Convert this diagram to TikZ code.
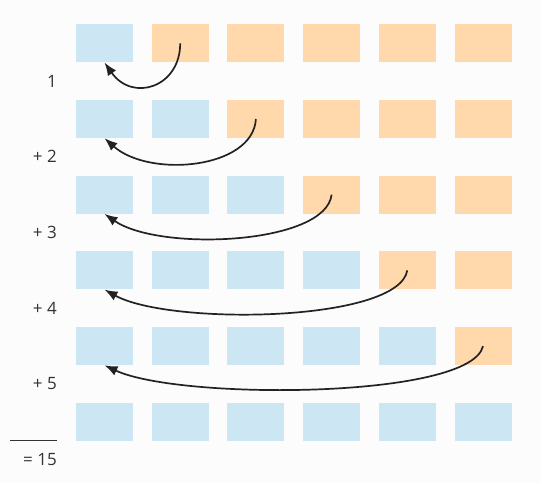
\documentclass[tikz,border=0pt]{standalone}
\usepackage{fontspec}
\setmainfont{Open Sans}
\usetikzlibrary{arrows.meta,positioning,calc}
\definecolor{Ink}{HTML}{222222}
\definecolor{Label}{HTML}{333333}
\definecolor{Sky}{HTML}{CCE6F4}
\definecolor{Peach}{HTML}{FFD8AC}
\definecolor{Paper}{HTML}{FCFCFC}

\begin{document}
\begin{tikzpicture}[x=1pt,y=1pt,>={Latex[length=13pt,width=10pt]},
    cell/.style={minimum width=57pt,minimum height=38pt,inner sep=0pt},
    done/.style={cell,fill=Sky},
    todo/.style={cell,fill=Peach},
    sumlabel/.style={anchor=east,font=\fontsize{17}{20}\selectfont,text=Label,inner sep=0pt},
    hop/.style={->,draw=Ink,line width=1.7pt}]
        \useasboundingbox (0,0) rectangle (553,-483);
        \fill[Paper] (0,0) rectangle (541,-483);
        % grid of cells
        \foreach \r in {1,...,6}{
          \foreach \c in {1,...,6}{
            \ifnum\c>\r
              \node[todo] (b-\r-\c) at ({104.5+(\c-1)*75.7},{-43.3-(\r-1)*75.7}) {};
            \else
              \node[done] (b-\r-\c) at ({104.5+(\c-1)*75.7},{-43.3-(\r-1)*75.7}) {};
            \fi
          }
        }
        % moves
        \foreach \r/\sx/\sy/\ex/\ey in {1/0/-44/28/-40,2/-3/-50/45/-40,3/-6/-50/55/-38,
                                       4/-9/-52/65/-36,5/-12/-53/75/-35}{
          \pgfmathtruncatemacro{\n}{\r+1}
          \draw[hop] (b-\r-\n.center) .. controls +(\sx,\sy) and +(\ex,\ey) .. (b-\r-1.south);
        }
        % running sum
        \node[sumlabel] (s-1) at (57,-81) {1};
        \foreach \k in {2,...,5}{
          \node[sumlabel] (s-\k) at (57,{-81-(\k-1)*75.7}) {+ \k};
        }
        \coordinate (rule-l) at (10,-440);
        \coordinate (rule-r) at (57,-440);
        \draw[Label,line width=0.8pt] (rule-l) -- (rule-r);
        \node[sumlabel] (total) at (57,-460) {= 15};
      \end{tikzpicture}
\end{document}
